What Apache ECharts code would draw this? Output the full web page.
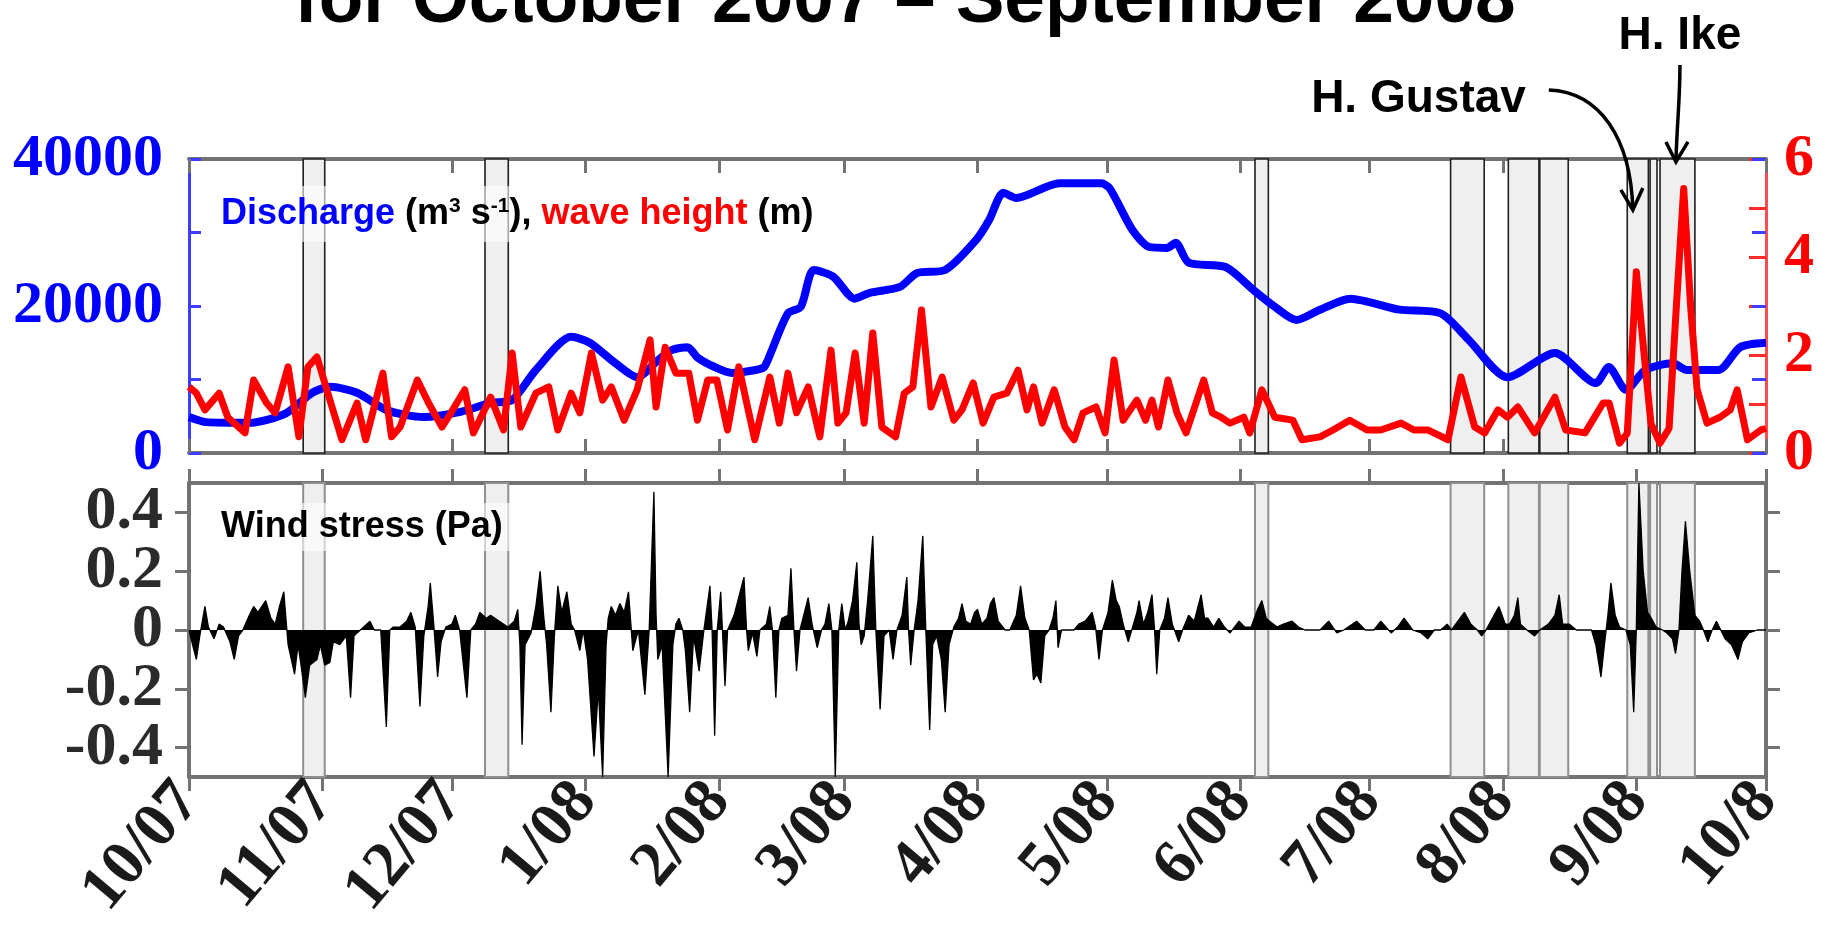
<!DOCTYPE html>
<html>
<head>
<meta charset="utf-8">
<script src="https://cdn.jsdelivr.net/npm/echarts@6/dist/echarts.min.js"></script>
<style>
html,body{margin:0;padding:0;background:#fff;}
#chart{width:1827px;height:946px;}
</style>
</head>
<body>
<div id="chart"></div>
<script>
// ---- DATA (x = days since 1 Oct 2007) ----
const monthDays = [0,31,61,92,123,152,183,213,244,274,305,336,366];
const monthLabels = ['10/07','11/07','12/07','1/08','2/08','3/08','4/08','5/08','6/08','7/08','8/08','9/08','10/8'];

const dischargeTicks = [0,20000,40000];
const waveTicks = [0,2,4,6];
const windTicks = [-0.4,-0.2,0,0.2,0.4];
const windTickLabels = ['-0.4','-0.2','0','0.2','0.4'];

// river discharge (m3/s)
const discharge = [[0,4900],[4,4200],[14,4100],[22.5,5400],[28.6,8200],[32.8,9000],[39,8200],[46,5800],[54.5,4900],[63,5600],[70,6800],[75,7200],[80.5,11300],[88.7,15800],[93,15000],[99,12200],[104,10300],[109,12700],[112,14000],[115.7,14400],[118,13000],[122,11700],[126,10900],[131.5,11300],[133.5,11700],[135,13600],[139,19000],[142,19900],[145,24900],[149.5,24000],[154.5,21000],[158,21800],[165,22600],[169,24500],[175.5,24900],[182.7,29000],[185.7,31700],[189,35400],[192,34700],[202,36700],[211.7,36700],[213.7,36000],[219,30300],[223,28000],[227,27900],[229,28600],[232,25900],[240.6,25300],[247,22200],[252,19900],[257,18100],[262.5,19500],[269.5,21000],[281,19500],[290.5,19000],[297,15400],[306,10300],[317,13600],[326.5,9500],[329.5,11700],[333.5,8600],[338,11300],[344.4,12200],[347.6,11300],[355,11300],[360,14400],[366,15000]];

// significant wave height (m)
const waveHeight = [[0,1.35],[1.7,1.22],[3.7,0.88],[7,1.22],[9,0.73],[13,0.41],[15,1.49],[18,1.02],[20,0.82],[23,1.76],[25.5,0.33],[27.6,1.76],[29.7,1.96],[32.7,1.08],[35.5,0.27],[39,1.02],[41,0.27],[45,1.63],[47,0.33],[49,0.53],[53,1.49],[55.6,1.02],[58.7,0.53],[60.8,0.82],[64,1.29],[66,0.41],[70,1.14],[73,0.47],[75,2.04],[77,0.53],[80.5,1.22],[83.5,1.35],[85.6,0.47],[88.7,1.22],[90.7,0.82],[93.4,2.04],[96,1.08],[98,1.35],[101,0.67],[104,1.29],[107,2.31],[108.4,0.94],[110.5,2.16],[113,1.63],[116,1.63],[118,0.67],[120.4,1.49],[122.5,1.49],[125,0.47],[127.6,1.76],[131.3,0.27],[134.8,1.55],[137,0.61],[139,1.63],[141,0.82],[143.7,1.35],[146.4,0.33],[149,2.1],[150.6,0.61],[152.5,0.82],[154.6,2.04],[156.7,0.61],[158.7,2.45],[160.8,0.53],[164,0.33],[166,1.22],[168,1.35],[170,2.92],[172.2,0.94],[174.8,1.55],[177.5,0.67],[179.4,0.88],[182,1.43],[184.3,0.61],[186.8,1.14],[189.8,1.22],[192.4,1.69],[194.5,0.88],[196,1.35],[198,0.61],[200.8,1.29],[203.3,0.53],[205.4,0.27],[207.5,0.82],[210.5,0.94],[212.6,0.41],[214.7,1.9],[216.8,0.67],[220,1.08],[222,0.67],[223.5,1.08],[225,0.53],[227.2,1.49],[229.3,0.82],[231.4,0.41],[235.5,1.49],[237.5,0.82],[239.5,0.73],[241.6,0.61],[244.8,0.73],[246.2,0.41],[249,1.29],[252,0.73],[256.2,0.67],[258.3,0.27],[262.5,0.33],[265.5,0.47],[269.4,0.67],[273.4,0.47],[276.6,0.47],[281.3,0.61],[284.3,0.47],[287.5,0.47],[292.2,0.27],[295.2,1.55],[298.4,0.53],[300.7,0.41],[303.8,0.88],[306,0.73],[308.4,0.94],[312.3,0.41],[317,1.14],[319.5,0.47],[324,0.41],[328.2,1.02],[329.6,1.02],[332,0.2],[333.8,0.4],[335.9,3.7],[337.5,2.2],[339.3,0.6],[341.4,0.2],[343.5,0.5],[345.2,3.0],[346.9,5.4],[348.5,3.0],[350,1.3],[352.3,0.61],[355.3,0.73],[357.7,0.88],[359.3,1.29],[361.7,0.27],[364.8,0.47],[366,0.5]];

// wind stress (Pa)
const windStress = [[0,0],[1,-0.06],[1.7,-0.1],[2.5,-0.02],[3.7,0.08],[4.5,0.01],[5.8,-0.03],[7,0.02],[8,0.01],[9.5,-0.04],[10.5,-0.1],[11.5,-0.02],[12.5,0],[14,0.05],[15,0.08],[16,0.06],[17.8,0.1],[19,0.04],[20,0.02],[21,0.08],[22,0.13],[22.6,0.02],[23,-0.05],[24.5,-0.15],[25.3,-0.05],[26,-0.12],[27,-0.23],[28,-0.12],[29.7,-0.1],[30.5,-0.05],[31.5,-0.12],[32.7,-0.11],[33.5,-0.04],[35,-0.05],[36.5,-0.02],[37.5,-0.23],[38.3,-0.02],[39,-0.01],[42,0.03],[43,0],[44.5,0],[45.8,-0.33],[46.6,0],[47.4,0.01],[49,0.01],[50.5,0.03],[51.5,0.06],[52.5,0.01],[53.6,-0.26],[54.5,-0.02],[55.5,0.08],[56,0.16],[56.8,0.02],[57.7,-0.16],[58.5,-0.04],[59.6,0.01],[61,0.02],[61.8,0.05],[62.8,0],[64.5,-0.23],[65.4,0],[66.5,0.02],[67.5,0.06],[69,0.04],[70,0.05],[72,0.03],[74,0.01],[75.5,0.03],[76.3,0.07],[76.8,-0.05],[77.3,-0.39],[78,-0.05],[79.4,-0.01],[80.5,0.08],[81.5,0.2],[82.3,0.05],[83,-0.05],[84,-0.28],[84.8,-0.02],[85.6,0.15],[86.5,0.06],[87.7,0.13],[88.7,0.02],[89.5,0],[90.7,-0.07],[91.5,0],[92.5,-0.1],[94,-0.43],[95,-0.2],[96,-0.5],[96.8,-0.05],[97.3,0.04],[98,0.08],[99,0.05],[100,0.09],[101,0.06],[102,0.13],[102.6,0.01],[103,-0.07],[104.3,0],[105.8,-0.22],[106.8,0],[107.9,0.47],[108.4,0.05],[108.8,-0.1],[109.8,-0.05],[111.2,-0.5],[112.3,-0.05],[113,0.02],[113.7,0.04],[114.6,0],[115.2,-0.07],[116.2,-0.28],[117.1,-0.02],[118.4,-0.14],[119.5,0],[120.9,0.15],[121.4,0],[122,-0.36],[122.6,0],[123.4,0.13],[123.8,0],[124.4,-0.19],[125,0],[126.5,0.05],[128.8,0.18],[129.4,0],[129.8,-0.07],[130.8,-0.01],[131.8,-0.09],[132.5,0],[134,0.02],[134.8,0.08],[135.4,0],[136.2,-0.23],[136.9,0],[137.6,0.04],[139,0.05],[139.7,0.21],[140.4,0],[141,-0.14],[141.8,0],[143.7,0.11],[144.6,0.02],[145.8,-0.06],[146.8,0],[147.6,0.02],[148.5,0.09],[149.2,0],[150,-0.5],[150.8,0],[151.5,0.09],[152.3,0],[153,0.03],[154,0.1],[155,0.23],[155.5,0.02],[156,-0.05],[156.7,-0.02],[157.5,0.1],[158.7,0.32],[159.4,0],[160.4,-0.27],[161.3,-0.02],[162.5,0],[163.4,-0.1],[164.3,0],[165.5,0.05],[166.6,0.18],[167,0],[167.5,-0.12],[168.3,0],[169.2,0.1],[170.3,0.32],[171,0],[171.9,-0.34],[172.6,-0.05],[173.5,-0.02],[174.6,-0.1],[175.5,-0.28],[176.4,-0.05],[177.5,0.01],[178.6,0.04],[179.4,0.09],[180.3,0.03],[181.4,0.02],[182.3,0.06],[183,0.07],[184,0.02],[185.2,0.04],[186,0.09],[186.8,0.11],[187.8,0.03],[189.4,0],[190.5,0],[192,0.05],[193,0.15],[194,0.04],[195,0],[196,-0.17],[196.8,-0.15],[197.7,-0.18],[198.6,-0.02],[199.6,0],[200.5,0.04],[201.2,0.1],[201.7,-0.06],[202.5,0],[204,0],[205.4,0],[206.5,0.02],[208,0.03],[209.6,0.06],[210.4,0.01],[211.2,-0.1],[212,0],[213.3,0.06],[214.3,0.17],[215.2,0.1],[215.9,0.08],[216.8,0.02],[218,-0.04],[218.8,0],[220,0.06],[220.5,0.1],[221.5,0.02],[222.5,0.06],[223.5,0.12],[224.1,0],[224.6,-0.15],[225.3,0],[226.4,0.04],[227.2,0.11],[228.2,0.02],[229.7,-0.04],[230.6,0],[232,0.05],[233.3,0.03],[234.9,0.12],[235.7,0.04],[236.5,0.04],[237.8,0.01],[239,0.04],[240.3,0.01],[241.6,-0.01],[243.7,0.03],[245,0.01],[246.5,0.01],[248,0.07],[249,0.1],[250,0.04],[250.8,0.03],[252.5,0.01],[254,0.02],[256,0.03],[257.5,0.01],[259,0],[261,0],[262.5,0],[264.5,0.03],[266.4,-0.01],[268,0],[271,0.03],[273,0],[275,0],[276.6,0.03],[279,-0.01],[280.5,0.01],[282,0.04],[284,0],[286,-0.01],[287.5,-0.03],[289,0],[290.5,0],[292,0.02],[293,0],[294.5,0.03],[296,0.06],[297.5,0.02],[299,0],[300,-0.02],[301,0],[302.5,0.04],[304,0.08],[305.5,0.02],[306.5,0.02],[307.6,0.05],[308.4,0.11],[309,0.02],[310.5,0],[312.3,-0.02],[313.5,0],[315.5,0.02],[317,0.05],[318,0.12],[318.8,0.02],[320.3,0.02],[322,0],[324,0],[325.5,0],[326.5,-0.05],[327.7,-0.16],[328.5,-0.05],[329.3,0.05],[330,0.16],[331,0.05],[332,0.01],[333.5,0],[334.5,-0.05],[335.3,-0.28],[335.9,0],[336.5,0.5],[337.5,0.2],[338.5,0.06],[339,0.05],[340.5,0.01],[342,0],[343,-0.01],[344.3,-0.03],[345,-0.08],[345.8,0],[346.5,0.2],[347.3,0.37],[348.3,0.2],[349.5,0.05],[350.6,0.03],[351.5,0],[352.5,-0.04],[353.5,0],[354.5,0.03],[355.5,0],[356.5,-0.03],[358,-0.05],[359.5,-0.1],[360.5,-0.04],[362,-0.01],[364,0],[366,0]];

// shaded storm periods [start day, end day]
const stormStart = [26.5, 68.7, 247.4, 292.8, 306.2, 313.5, 333.8, 339.1, 341.4];
const stormEnd   = [31.5, 74.1, 250.5, 300.6, 313.3, 320.1, 338.7, 340.7, 349.5];

// hurricane annotations: name, day and wave height at arrow tip
const hurricaneNames = ['H. Gustav', 'H. Ike'];
const hurricaneDay = [335.1, 345.1];
const hurricaneTip = [4.96, 5.94];

const titleText = 'for October 2007 \u2013 September 2008';

// ---- CHART ----
const chart = echarts.init(document.getElementById('chart'), null, {renderer: 'canvas'});
const GREY = '#737373';
const serifBold = {fontFamily: 'Liberation Serif', fontWeight: 'bold'};
const bands = stormStart.map((s, i) => [{xAxis: s}, {xAxis: stormEnd[i]}]);
const windLabel = v => windTickLabels[windTicks.indexOf(Math.round(v * 10) / 10)];
const windLabelsA = windTicks.filter((v, i) => i % 2 === 0);   // -0.4, 0, 0.4
const windLabelsB = windTicks.filter((v, i) => i % 2 === 1);   // -0.2, 0.2

function xAx(grid, pos, inside, showLabel) {
  return {
    type: 'value', gridIndex: grid, position: pos, min: 0, max: 366,
    show: grid < 2,
    splitLine: {show: false},
    axisLine: {show: true, onZero: false, lineStyle: {color: GREY, width: 4}},
    axisTick: {show: true, inside: inside, length: 14, customValues: monthDays,
               lineStyle: {color: GREY, width: 3}},
    axisLabel: showLabel ? {
      show: true, customValues: monthDays, rotate: 50, margin: 14, interval: 0,
      color: '#1a1a1a', fontSize: 64, ...serifBold,
      formatter: v => monthLabels[monthDays.indexOf(v)]
    } : {show: false}
  };
}

const option = {
  animation: false,
  backgroundColor: '#fff',
  grid: [
    {left: 189, right: 61, top: 159, height: 294},
    {left: 189, right: 61, top: 483, height: 294},
    {left: 189, right: 61, top: 159, height: 294},
    {left: 189, right: 61, top: 483, height: 294}
  ],
  xAxis: [
    xAx(0, 'bottom', true, false),
    xAx(0, 'top', true, false),
    xAx(1, 'bottom', false, true),
    xAx(1, 'top', false, false),
    xAx(2, 'bottom', true, false),
    xAx(3, 'bottom', true, false)
  ],
  yAxis: [
    { // discharge, left
      type: 'value', gridIndex: 0, position: 'left', min: 0, max: 40000, interval: 10000,
      splitLine: {show: false},
      axisLine: {show: true, onZero: false, lineStyle: {color: '#3d3dff', width: 3}},
      axisTick: {show: true, inside: true, length: 12, lineStyle: {color: '#3d3dff', width: 3}},
      axisLabel: {customValues: dischargeTicks, showMinLabel: true, showMaxLabel: true, interval: 0,
                  color: '#0000ff', fontSize: 60, margin: 26, ...serifBold, formatter: v => String(v)}
    },
    { // wave height, right
      type: 'value', gridIndex: 0, position: 'right', min: 0, max: 6, interval: 1,
      splitLine: {show: false},
      axisLine: {show: true, onZero: false, lineStyle: {color: '#ff4d4d', width: 3}},
      axisTick: {show: true, inside: true, length: 17, lineStyle: {color: '#ff2a2a', width: 3}},
      axisLabel: {customValues: waveTicks, showMinLabel: true, showMaxLabel: true, interval: 0,
                  color: '#ff0000', fontSize: 60, margin: 18, ...serifBold, formatter: v => String(v)}
    },
    { // wind stress left
      type: 'value', gridIndex: 1, position: 'left', min: -0.5, max: 0.5,
      splitLine: {show: false},
      axisLine: {show: true, onZero: false, lineStyle: {color: GREY, width: 4}},
      axisTick: {show: true, inside: false, length: 14, customValues: windTicks, lineStyle: {color: GREY, width: 3}},
      axisLabel: {customValues: windLabelsA, showMinLabel: true, showMaxLabel: true, interval: 0,
                  color: '#2b2b2b', fontSize: 62, margin: 26, ...serifBold, formatter: windLabel}
    },
    { // wind stress right
      type: 'value', gridIndex: 1, position: 'right', min: -0.5, max: 0.5,
      splitLine: {show: false},
      axisLine: {show: true, onZero: false, lineStyle: {color: GREY, width: 4}},
      axisTick: {show: true, inside: false, length: 14, customValues: windTicks, lineStyle: {color: GREY, width: 3}},
      axisLabel: {show: false}
    },
    { // discharge ticks mirrored on the right of the top panel (overlay grid)
      type: 'value', gridIndex: 2, position: 'right', min: 0, max: 40000, interval: 10000,
      splitLine: {show: false},
      axisLine: {show: false, onZero: false},
      axisTick: {show: true, inside: true, length: 14, lineStyle: {color: '#3d3dff', width: 3}},
      axisLabel: {show: false}
    },
    { // remaining wind stress labels (overlay grid)
      type: 'value', gridIndex: 3, position: 'left', min: -0.5, max: 0.5,
      splitLine: {show: false},
      axisLine: {show: false, onZero: false},
      axisTick: {show: false},
      axisLabel: {customValues: windLabelsB, showMinLabel: true, showMaxLabel: true, interval: 0,
                  color: '#2b2b2b', fontSize: 62, margin: 26, ...serifBold, formatter: windLabel}
    }
  ],
  series: [
    {
      type: 'line', xAxisIndex: 0, yAxisIndex: 0, data: [], z: 1, silent: true,
      markArea: {silent: true, itemStyle: {color: '#efefef', borderColor: '#1f1f1f', borderWidth: 1.6}, data: bands}
    },
    {
      type: 'line', xAxisIndex: 2, yAxisIndex: 2, data: [], z: 1, silent: true,
      markArea: {silent: true, itemStyle: {color: '#efefef', borderColor: '#8f8f8f', borderWidth: 2}, data: bands}
    },
    {
      name: 'Discharge', type: 'line', xAxisIndex: 0, yAxisIndex: 0, data: discharge, z: 3,
      showSymbol: false, smooth: 0.25, lineStyle: {color: '#0000ff', width: 8}
    },
    {
      name: 'Wave height', type: 'line', xAxisIndex: 0, yAxisIndex: 1, data: waveHeight, z: 4,
      showSymbol: false, lineStyle: {color: '#ff0000', width: 7, join: 'round'}
    },
    {
      name: 'Wind stress', type: 'line', xAxisIndex: 2, yAxisIndex: 2, data: windStress, z: 3,
      showSymbol: false, lineStyle: {color: '#000', width: 1.3},
      areaStyle: {color: '#000', opacity: 1, origin: 'auto'}
    }
  ]
};
chart.setOption(option);

// ---- annotations ----
const graphics = [
  {type: 'text', x: 905, y: 1.5, z: 10,
   style: {text: titleText, fill: '#000', font: 'bold 73px "Liberation Sans"', textAlign: 'center', textVerticalAlign: 'middle'}},
  {type: 'text', x: 213, y: 186, z: 10,
   style: {
     text: '{b|Discharge}{k| (m}{s|3}{k| s}{s|-1}{k|),}{r| wave height}{k| (m)}',
     backgroundColor: 'rgba(255,255,255,0.6)', padding: [6, 8, 6, 8],
     rich: {
       b: {fill: '#0000ff', font: 'bold 36px "Liberation Sans"', lineHeight: 44},
       r: {fill: '#ff0000', font: 'bold 36px "Liberation Sans"', lineHeight: 44},
       k: {fill: '#000', font: 'bold 36px "Liberation Sans"', lineHeight: 44},
       s: {fill: '#000', font: 'bold 21px "Liberation Sans"', lineHeight: 44, verticalAlign: 'top', padding: [4, 0, 0, 0]}
     }
   }},
  {type: 'text', x: 213, y: 503, z: 10,
   style: {text: 'Wind stress (Pa)', fill: '#000', font: 'bold 36px "Liberation Sans"',
           backgroundColor: 'rgba(255,255,255,0.6)', padding: [6, 8, 6, 8]}}
];

// hurricane labels and arrows anchored at data positions
const tips = hurricaneDay.map((d, i) => chart.convertToPixel({xAxisIndex: 0, yAxisIndex: 1}, [d, hurricaneTip[i]]));
{
  const [tx, ty] = tips[0];
  graphics.push({type: 'bezierCurve', z: 12, shape: {x1: tx - 84, y1: ty - 120, cpx1: tx - 33, cpy1: ty - 118, cpx2: tx - 2, cpy2: ty - 72, x2: tx, y2: ty},
                 style: {stroke: '#000', lineWidth: 3.5, fill: null}});
  graphics.push({type: 'polyline', z: 12, shape: {points: [[tx - 12, ty - 20], [tx, ty], [tx + 10, ty - 22]]},
                 style: {stroke: '#000', lineWidth: 3.5, fill: null}});
  graphics.push({type: 'text', x: tx - 107, y: ty - 111, z: 12,
                 style: {text: hurricaneNames[0], fill: '#000', font: 'bold 46px "Liberation Sans"', textAlign: 'right', textVerticalAlign: 'middle'}});
}
{
  const [tx, ty] = tips[1];
  graphics.push({type: 'bezierCurve', z: 12, shape: {x1: tx + 4, y1: ty - 97, cpx1: tx + 4, cpy1: ty - 60, cpx2: tx + 1, cpy2: ty - 40, x2: tx, y2: ty},
                 style: {stroke: '#000', lineWidth: 3.5, fill: null}});
  graphics.push({type: 'polyline', z: 12, shape: {points: [[tx - 10, ty - 20], [tx, ty], [tx + 12, ty - 20]]},
                 style: {stroke: '#000', lineWidth: 3.5, fill: null}});
  graphics.push({type: 'text', x: tx + 4, y: ty - 126, z: 12,
                 style: {text: hurricaneNames[1], fill: '#000', font: 'bold 46px "Liberation Sans"', textAlign: 'center', textVerticalAlign: 'middle'}});
}
chart.setOption({graphic: {elements: graphics}});
</script>
</body>
</html>
